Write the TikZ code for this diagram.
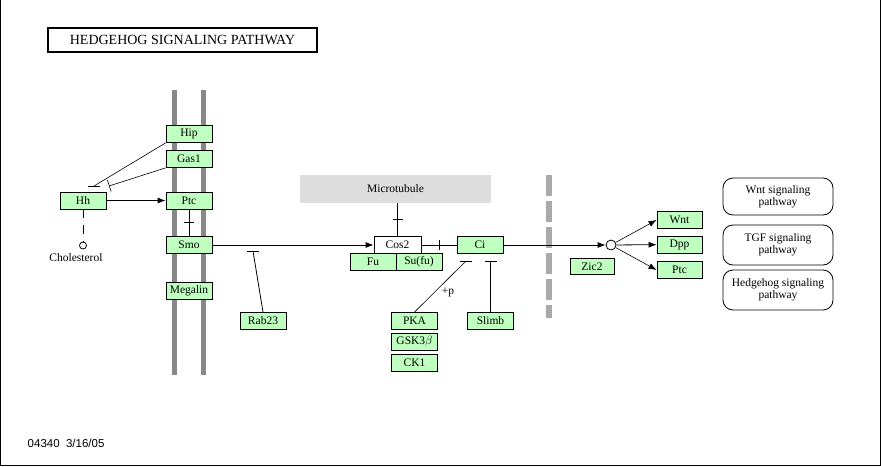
\documentclass[tikz,border=0pt]{standalone}
\usepackage{fontspec}
\setmainfont{Liberation Serif}
\setsansfont{Liberation Sans}
\usetikzlibrary{arrows.meta,calc}
\definecolor{genefill}{HTML}{BFFFBF}
\definecolor{tubegray}{HTML}{DDDDDD}
\definecolor{membgray}{HTML}{888888}
\definecolor{wallgray}{HTML}{AAAAAA}
% short horizontal inhibition bar at a coordinate
\newcommand{\inhbar}[2][6]{\draw ($(#2)+(-#1,0)$) -- ($(#2)+(#1,0)$);}

\begin{document}
\begin{tikzpicture}[x=1pt, y=-1pt, line width=0.8pt,
    font=\fontsize{11.5}{12}\selectfont,
    gene/.style={draw, fill=genefill, minimum width=46pt, minimum height=17pt, inner sep=0pt},
    mapbox/.style={draw, rounded corners=10pt, minimum width=110pt, align=center, inner sep=0pt},
    act/.style={-{Latex[length=8pt,width=6pt]}},
    bartip/.style={-{Bar[width=12pt]}}]
                    \useasboundingbox (0,0) rectangle (881,466);
                    % Frame
                    \draw[line width=1pt] (0.5,0) -- (0.5,465.5) -- (880.5,465.5) -- (880.5,0);

                    % Title
                    \node[draw, line width=1.5pt, minimum width=269pt, minimum height=24pt, inner sep=0pt,
                          font=\fontsize{14}{15}\selectfont] (title) at (182.5,40) {HEDGEHOG SIGNALING PATHWAY};

                    % Cell membrane
                    \draw[membgray, line width=5pt] (174.5,90) -- (174.5,375);
                    \draw[membgray, line width=5pt] (203.5,90) -- (203.5,375);

                    % Nuclear membrane
                    \draw[wallgray, line width=6pt, dash pattern=on 21pt off 5pt] (549,175) -- (549,318);

                    % Microtubule
                    \node[fill=tubegray, minimum width=191pt, minimum height=28pt, inner sep=0pt] (tube) at (395.5,189) {Microtubule};

                    % Membrane proteins
                    \node[gene] (hip) at (189,134) {Hip};
                    \node[gene] (gas1) at (189,159) {Gas1};
                    \node[gene] (ptc) at (189,200.5) {Ptc};
                    \node[gene] (smo) at (189,245) {Smo};
                    \node[gene] (megalin) at (189,291) {Megalin};

                    % Ligand
                    \node[gene] (hh) at (83,200.5) {Hh};
                    \node[draw, circle, fill=white, minimum size=7pt, inner sep=0pt] (chol) at (83,245.5) {};
                    \node (chollabel) at (76,257.5) {Cholesterol};

                    % Cytoplasm
                    \node[gene, fill=white, minimum width=47pt] (cos2) at (397.5,245) {Cos2};
                    \node[gene] (fu) at (373,261.5) {Fu};
                    \node[gene] (sufu) at (419,261.5) {Su(fu)};
                    \node[gene] (ci) at (480,245) {Ci};
                    \node[gene] (rab23) at (263,321) {Rab23};
                    \node[gene] (pka) at (414.5,321) {PKA};
                    \node[gene] (gsk3b) at (414.5,341.5) {GSK3$\beta$};
                    \node[gene] (ck1) at (414.5,362.5) {CK1};
                    \node[gene] (slimb) at (490.5,321) {Slimb};

                    % Nucleus
                    \node[draw, circle, fill=white, minimum size=10pt, inner sep=0pt] (hub) at (611,245) {};
                    \node[gene, minimum width=45pt] (wnt) at (679.5,220) {Wnt};
                    \node[gene, minimum width=45pt] (dpp) at (679.5,244.5) {Dpp};
                    \node[gene, minimum width=45pt] (ptc2) at (679.5,270) {Ptc};
                    \node[gene, minimum width=44pt, minimum height=16pt] (zic2) at (592,266.5) {Zic2};

                    % Linked pathways
                    \node[mapbox, minimum height=37pt] (wntmap) at (778,196.5) {Wnt signaling\\pathway};
                    \node[mapbox, minimum height=40pt] (tgfmap) at (778,245) {TGF signaling\\pathway};
                    \node[mapbox, minimum height=40pt] (hhmap) at (778,290) {Hedgehog signaling\\pathway};

                    % Hh binding
                    \draw[dash pattern=on 9pt off 7pt] (hh.south) -- (chol.north);
                    \draw[act] (hh) -- (ptc);
                    \coordinate (hipend) at (94,186);
                    \draw[line width=0.6pt] (hip.south west) -- (hipend);
                    \inhbar{hipend}
                    \coordinate (gasend) at (109,186);
                    \draw[bartip, line width=0.6pt] (gas1.south west) -- (gasend);

                    % Ptc -| Smo
                    \draw (ptc) -- (smo) coordinate[midway] (ptcsmo);
                    \inhbar[5]{ptcsmo}

                    % Smo to Cos2 complex
                    \draw[act] (smo) -- (cos2);
                    \coordinate (rabend) at (253,251);
                    \draw (rab23.north) -- (rabend);
                    \inhbar{rabend}
                    \draw (tube.south -| cos2.north) -- (cos2.north) coordinate[midway] (tubecos);
                    \inhbar[5]{tubecos}
                    \draw (cos2) -- (ci) coordinate[midway] (cosci);
                    \draw ($(cosci)+(0,-5)$) -- ($(cosci)+(0,5)$);

                    % Ci processing
                    \coordinate (pkaend) at (466,261);
                    \draw[line width=0.6pt] (pka.north) -- (pkaend);
                    \inhbar{pkaend}
                    \node (plusp) at (448,292) {+p};
                    \coordinate (slimbend) at (490.5,261);
                    \draw (slimb.north) -- (slimbend);
                    \inhbar{slimbend}

                    % Target genes
                    \draw[act] (ci) -- (hub);
                    \draw[act, line width=0.6pt] (hub) -- (wnt.west);
                    \draw[act] (hub) -- (dpp);
                    \draw[act, line width=0.6pt] (hub) -- (ptc2.west);

                    % Map id
                    \node[anchor=west, font=\sffamily\fontsize{11.5}{12}\selectfont] (mapid) at (24,443) {04340\ \ 3/16/05};
                \end{tikzpicture}
\end{document}
